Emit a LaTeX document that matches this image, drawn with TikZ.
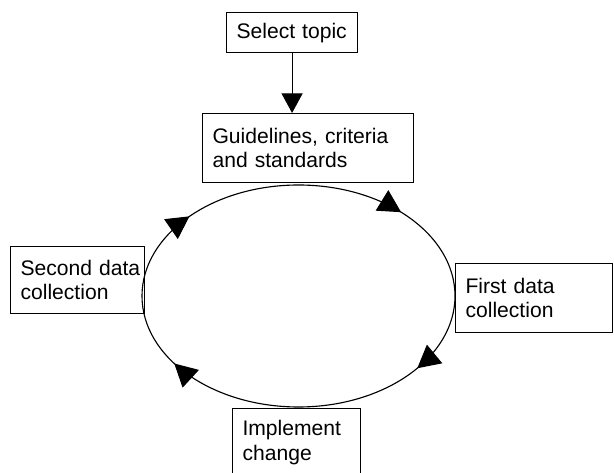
\documentclass[tikz,border=0pt]{standalone}
\usepackage{fontspec}
\setmainfont{Liberation Sans}
\usetikzlibrary{positioning,arrows.meta,decorations.markings}

\begin{document}
\begin{tikzpicture}[x=0.025cm,y=0.025cm,
   font=\fontsize{15}{17.5}\selectfont,
   >={Triangle[length=14pt,width=15pt]},
   stage/.style={draw,line width=0.8pt,anchor=north west,align=left,
     inner xsep=0.25cm,inner ysep=0pt},
   turn/.tip={Triangle[length=16pt,width=17pt]},
   loop/.style={line width=0.8pt,postaction={decorate},decoration={markings,
     mark=at position 0.0996 with {\arrow{turn}},
     mark=at position 0.409 with {\arrow{turn}},
     mark=at position 0.614 with {\arrow{turn}},
     mark=at position 0.877 with {\arrow{turn}}}}]
\useasboundingbox (0,0) rectangle (614,473);
% boxes
\node[stage,text width=2.775cm,minimum height=1cm] (topic) at (226,461) {Select~topic};
\node[stage,text width=4.775cm,minimum height=1.725cm] (guide) at (202,360)
   {Guidelines,~criteria\\and~standards};
\node[stage,text width=3.425cm,minimum height=1.725cm] (first) at (455,210)
   {First~data\\collection};
\node[stage,text width=2.7cm,minimum height=1.7cm] (impl) at (232,65)
   {Implement\\change};
\node[stage,text width=2.85cm,minimum height=1.675cm] (second) at (10,227)
   {Second~data\\collection};
\draw[line width=0.8pt,->] (topic) -- (topic |- guide.north);
% audit cycle, run clockwise
\coordinate (c) at (298.5,177);
\draw[loop] ([shift={(156.5,0)}]c) arc[start angle=0,end angle=-360,x radius=156.5,y radius=111];
\end{tikzpicture}
\end{document}
